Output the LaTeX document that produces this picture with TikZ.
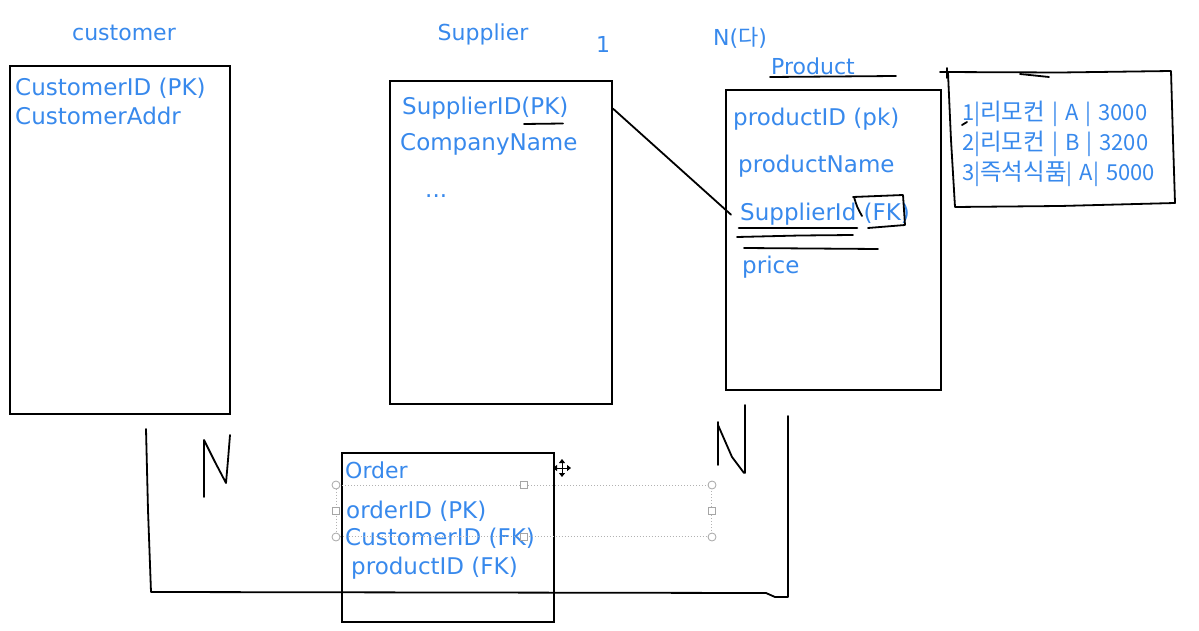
\documentclass[tikz,border=0pt]{standalone}
\usepackage{fontspec}
\setmainfont{DejaVu Sans}
\newfontfamily\krfont{Noto Sans CJK KR}
\usetikzlibrary{arrows.meta}
\definecolor{inkblue}{RGB}{56,137,236}
\newcommand\hangul[1]{{\fontsize{23.5}{26}\selectfont#1}}
\newcommand\memofont{\krfont\fontsize{22}{26}\selectfont\spaceskip 7pt\relax}
\tikzset{
  attr/.style={anchor=base west,inner sep=0pt,text=inkblue,font=\fontsize{23}{26}\selectfont},
  title/.style={attr,anchor=base,font=\fontsize{22}{26}\selectfont},
  memo/.style={attr,font=\memofont},
  table/.style={draw,line width=2pt,inner sep=0pt,anchor=north west},
  pen/.style={line width=1.8pt,line join=round,line cap=round},
  selframe/.style={draw=gray!60,line width=1pt,dotted,inner sep=0pt,anchor=north west},
  grip/.style={draw=gray!70,fill=white,line width=0.8pt}
}
\begin{document}
\begin{tikzpicture}[x=1pt,y=-1pt]
  \useasboundingbox (0,0) rectangle (1199,631);
  % tables
  \node[table,minimum width=220pt,minimum height=348pt] (cust) at (9,65) {};
  \node[table,minimum width=222pt,minimum height=323pt] (supp) at (389,80) {};
  \node[table,minimum width=215pt,minimum height=300pt] (prod) at (725,89) {};
  \node[table,minimum width=212pt,minimum height=169pt] (ord) at (341,452) {};
  % titles and cardinalities
  \node[title] (custname) at (124,41) {customer};
  \node[title] (suppname) at (483,41) {Supplier};
  \node[title] (one) at (603,53) {1};
  \node[title,anchor=base west] (many) at (713,46) {N({\krfont 다})};
  \node[title,anchor=base west] (prodname) at (771,75) {Product};
  \draw[pen] (770,77) -- (896,76);
  % customer
  \node[attr] (custid) at (15,96) {CustomerID (PK)};
  \node[attr] (custaddr) at (15,125) {CustomerAddr};
  % supplier
  \node[attr] (suppk) at (402,115) {SupplierID(PK)};
  \node[attr] (compname) at (400,151) {CompanyName};
  \node[attr] (more) at (425,197) {...};
  \draw[pen] (524,124) -- (563,123.5);
  % product
  \node[attr] (prodid) at (733,126) {productID (pk)};
  \node[attr] (prodtitle) at (738,173) {productName};
  \node[attr] (prodfk) at (740,221) {SupplierId (FK)};
  \node[attr] (price) at (742,273) {price};
  \draw[pen] (853,197) -- (903,195) -- (905,225) -- (868,228);
  \draw[pen] (854,197) .. controls (857,207) .. (862,216);
  \draw[pen,line width=2.6pt] (739,228) -- (857,228);
  \draw[pen] (737,237) -- (800,235.5) -- (853,235);
  \draw[pen] (744,248) -- (878,249);
  % sample rows
  \foreach \row [count=\i] in {{1|\hangul{리모컨} | A | 3000},{2|\hangul{리모컨} | B | 3200},{3|\hangul{즉석식품}| A| 5000}}
    \node[memo] (row\i) at (962,90.5+30*\i) {\row};
  \draw[pen] (940,72) -- (1060,72.5) -- (1171,71) -- (1173,140) -- (1175,203)
    -- (1060,206) -- (955,207) -- (951,140) -- (948,73);
  \draw[pen] (947,68) -- (947,78);
  \draw[pen] (1020,74) -- (1049,77);
  \draw[pen] (962,125) -- (967,122);
  % order
  \node[title,anchor=base west] (ordname) at (345,478) {Order};
  \node[attr] (ordid) at (346,518) {orderID (PK)};
  \node[attr] (ordcust) at (345,545) {CustomerID (FK)};
  \node[attr] (ordprod) at (351,574) {productID (FK)};
  % selection handles
  \node[selframe,minimum width=375pt,minimum height=51pt] (sel) at (336,485) {};
  \foreach \a in {north west,north east,south west,south east}
    \draw[grip] (sel.\a) circle (4pt);
  \foreach \a in {north,south,west,east}
    \draw[grip] ([xshift=-3.5pt,yshift=-3.5pt]sel.\a) rectangle ([xshift=3.5pt,yshift=3.5pt]sel.\a);
  \coordinate (grab) at (562,468);
  \draw[line width=1pt,{Triangle[length=4pt,width=6pt]}-{Triangle[length=4pt,width=6pt]}]
    ([xshift=-9pt]grab) -- ([xshift=9pt]grab);
  \draw[line width=1pt,{Triangle[length=4pt,width=6pt]}-{Triangle[length=4pt,width=6pt]}]
    ([yshift=-9pt]grab) -- ([yshift=9pt]grab);
  % relationships
  \draw[pen] (supp.east |- suppk) -- ([xshift=-9pt]prodfk.west);
  \coordinate (custfoot) at (146,429);
  \coordinate (prodfoot) at (788,416);
  \draw[pen] (custfoot) -- (148,510) -- (151,592) -- (460,592.5) -- (766,593)
    -- (775,597) -- (788,597) -- (prodfoot);
  \draw[pen] (204,497) -- (204,440) -- (215,462) -- (226,483) -- (228,460) -- (230,435);
  \draw[pen] (718,465) -- (718,422);
  \draw[pen] (718,425) -- (732,457) -- (744,473);
  \draw[pen] (745,473) -- (745,405);
\end{tikzpicture}
\end{document}
